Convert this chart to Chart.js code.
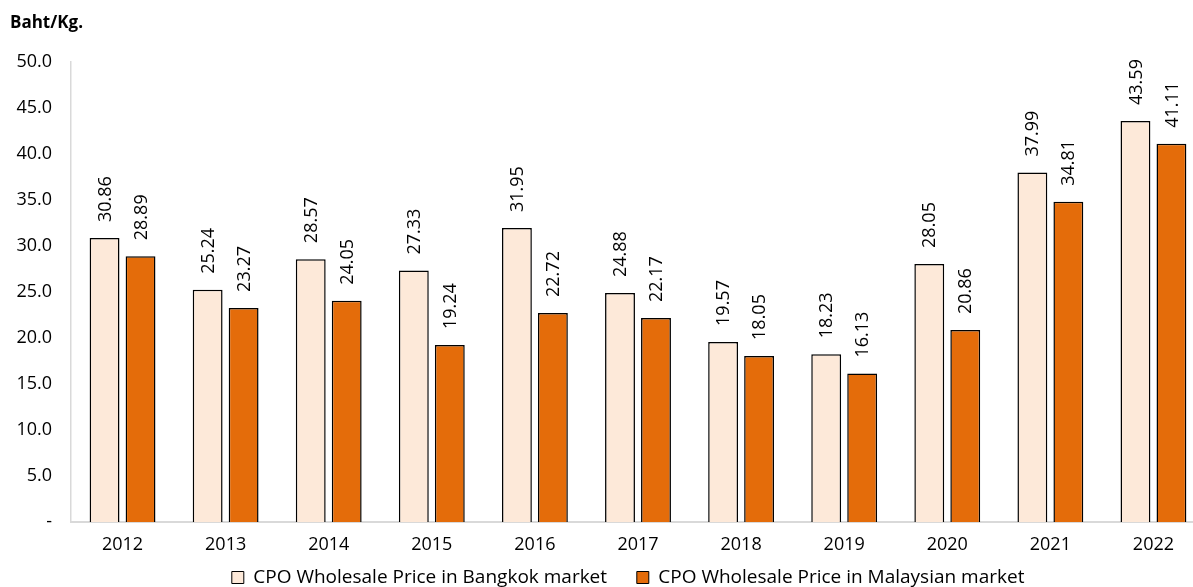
<!DOCTYPE html>
<html>
<head>
<meta charset="utf-8">
<script src="https://cdn.jsdelivr.net/npm/chart.js@4.4.0/dist/chart.umd.min.js"></script>
<style>
  html, body { margin: 0; padding: 0; background: #fff; overflow: hidden; }
  #wrap { width: 1193px; height: 587px; position: relative; overflow: hidden; }
  #c { display: block; }
</style>
</head>
<body>
<div id="wrap"><canvas id="c" width="1205" height="587"></canvas></div>
<script>
const categories = ['2012','2013','2014','2015','2016','2017','2018','2019','2020','2021','2022'];
const bangkokPrice = [30.86, 25.24, 28.57, 27.33, 31.95, 24.88, 19.57, 18.23, 28.05, 37.99, 43.59];
const malaysiaPrice = [28.89, 23.27, 24.05, 19.24, 22.72, 22.17, 18.05, 16.13, 20.86, 34.81, 41.11];
const seriesNames = ['CPO Wholesale Price in Bangkok market', 'CPO Wholesale Price in Malaysian market'];
const unitLabel = 'Baht/Kg.';

const FONT = "'Open Sans', 'Noto Sans', sans-serif";
const NB = '\u00a0';

const titlePlugin = {
  id: 'unitTitle',
  afterDraw(chart) {
    const ctx = chart.ctx;
    ctx.save();
    ctx.font = "bold 17px " + FONT;
    ctx.fillStyle = '#000';
    ctx.textAlign = 'left';
    ctx.textBaseline = 'middle';
    ctx.fillText(unitLabel, 10, 23);
    ctx.restore();
  }
};

const valueLabels = {
  id: 'valueLabels',
  afterDatasetsDraw(chart) {
    const ctx = chart.ctx;
    ctx.save();
    ctx.font = "18px " + FONT;
    ctx.fillStyle = '#000';
    ctx.textAlign = 'left';
    ctx.textBaseline = 'middle';
    chart.data.datasets.forEach((ds, di) => {
      const meta = chart.getDatasetMeta(di);
      meta.data.forEach((bar, i) => {
        ctx.save();
        ctx.translate(bar.x, bar.y - 16);
        ctx.rotate(-Math.PI / 2);
        ctx.fillText(ds.data[i].toFixed(2), 0, 1);
        ctx.restore();
      });
    });
    ctx.restore();
  }
};

new Chart(document.getElementById('c'), {
  type: 'bar',
  data: {
    labels: categories,
    datasets: [
      {
        label: seriesNames[0],
        data: bangkokPrice,
        backgroundColor: '#FDE9D9',
        borderColor: '#000000',
        borderWidth: 1.5,
        categoryPercentage: 0.698,
        barPercentage: 0.83
      },
      {
        label: seriesNames[1],
        data: malaysiaPrice,
        backgroundColor: '#E46C0A',
        borderColor: '#000000',
        borderWidth: 1.5,
        categoryPercentage: 0.698,
        barPercentage: 0.83
      }
    ]
  },
  options: {
    responsive: false,
    animation: false,
    devicePixelRatio: 1,
    layout: { padding: { top: 62, right: 0, left: 0, bottom: -10 } },
    plugins: {
      legend: {
        position: 'bottom',
        fullSize: false,
        labels: {
          font: { family: FONT, size: 19 },
          color: '#000',
          boxWidth: 12,
          boxHeight: 12,
          padding: 10,
          generateLabels(chart) {
            return chart.data.datasets.map((ds, i) => ({
              text: ds.label + NB.repeat(4),
              fillStyle: ds.backgroundColor,
              strokeStyle: '#000',
              lineWidth: 1,
              hidden: false,
              datasetIndex: i,
              fontColor: '#000'
            }));
          }
        }
      },
      tooltip: { enabled: false },
      title: { display: false }
    },
    scales: {
      x: {
        afterFit(scale) { scale.height = 36; },
        grid: { display: false, drawTicks: false },
        border: { display: true, color: '#d9d9d9', width: 2 },
        ticks: { font: { family: FONT, size: 18 }, color: '#000', padding: 12 }
      },
      y: {
        min: 0,
        max: 50,
        afterFit(scale) { scale.width = 71; },
        grid: { display: false, drawTicks: false },
        border: { display: true, color: '#d9d9d9', width: 1.5 },
        ticks: {
          stepSize: 5,
          font: { family: FONT, size: 18 },
          color: '#000',
          padding: 19,
          callback: v => v === 0 ? '-' : v.toFixed(1)
        }
      }
    }
  },
  plugins: [titlePlugin, valueLabels]
});
</script>
</body>
</html>
